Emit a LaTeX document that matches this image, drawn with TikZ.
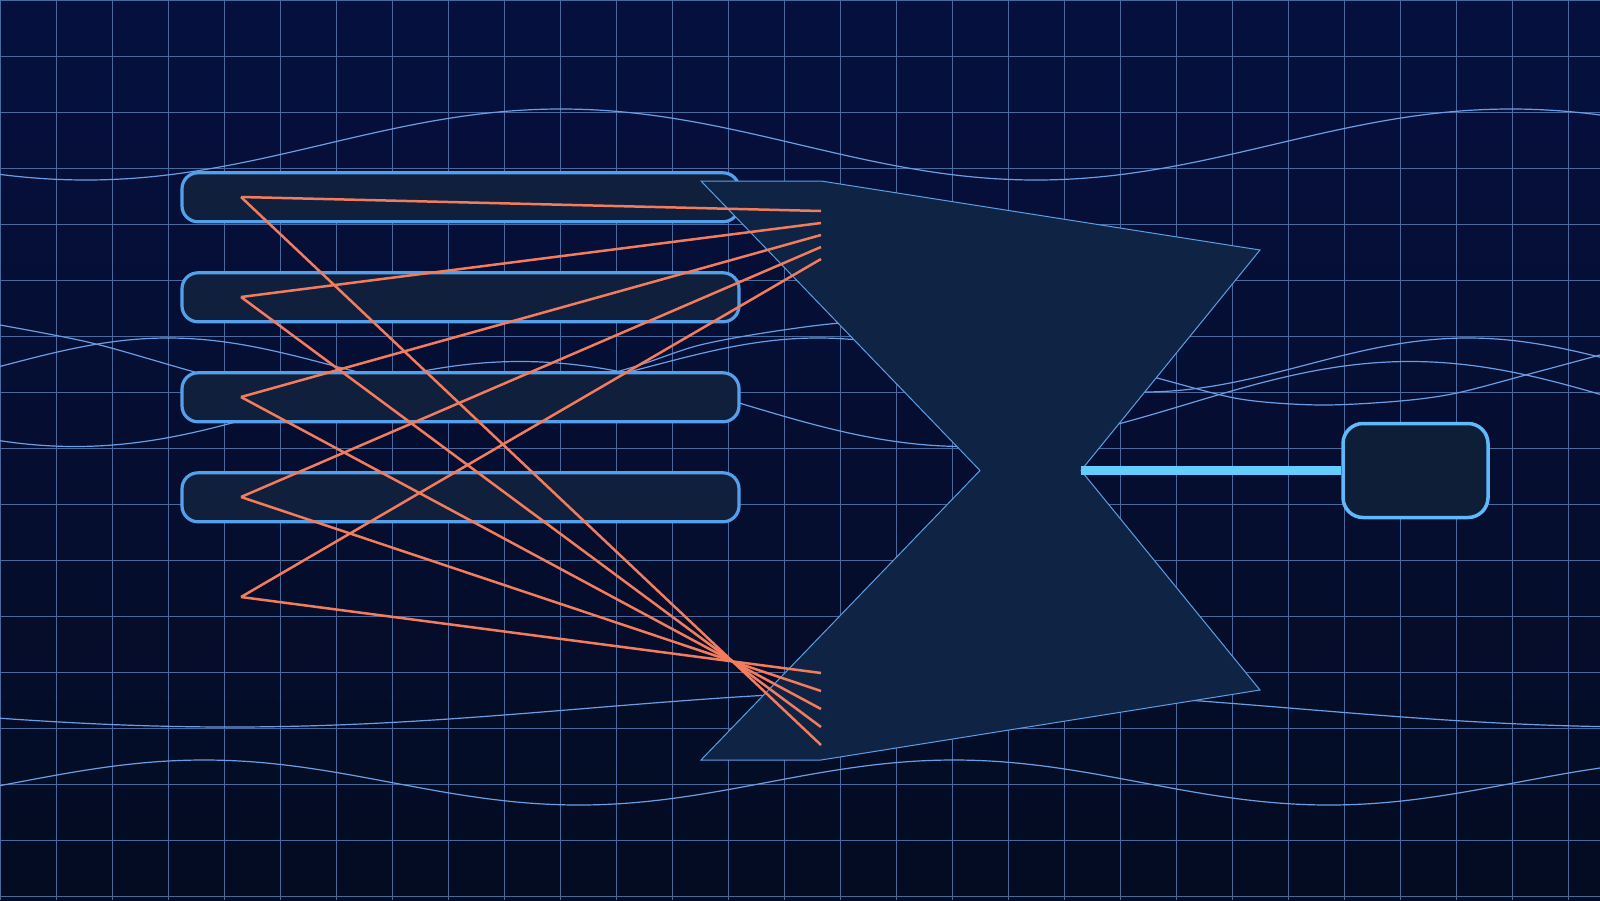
\documentclass[tikz,border=0pt]{standalone}
\definecolor{bgtop}{HTML}{06103F}
\definecolor{bgbot}{HTML}{040C22}
\definecolor{gridblue}{HTML}{4A6A9E}
\definecolor{waveblue}{HTML}{6A9EE4}
\definecolor{barfill}{HTML}{10203C}
\definecolor{barline}{HTML}{55A0EB}
\definecolor{funnelfill}{HTML}{0F2444}
\definecolor{funnelline}{HTML}{5A9FE6}
\definecolor{coral}{HTML}{F47C5E}
\definecolor{boxfill}{HTML}{0E1E37}
\definecolor{boxline}{HTML}{5FB9FA}
\definecolor{linkblue}{HTML}{64CDFF}
\tikzset{
  gridline/.style={draw=gridblue, line width=1pt},
  wave/.style={draw=waveblue, line width=1.2pt},
  slot/.style={shape=rectangle, draw=barline, fill=barfill, line width=3.2pt, rounded corners=16pt, minimum width=557pt, minimum height=49pt, inner sep=0pt},
  funnel/.style={draw=funnelline, fill=funnelfill, line width=1pt},
  ray/.style={draw=coral, line width=2.5pt},
  outbox/.style={shape=rectangle, draw=boxline, fill=boxfill, line width=3.5pt, rounded corners=20pt, minimum width=145pt, minimum height=94pt, inner sep=0pt},
  link/.style={draw=linkblue, line width=9.5pt}
}
\begin{document}
\begin{tikzpicture}[x=1pt, y=-1pt]
\useasboundingbox (0,0) rectangle (1600,900);
\shade[top color=bgtop, bottom color=bgbot] (0,0) rectangle (1600,900);
\draw[gridline, xstep=56pt, ystep=56pt] (0,0) grid (1600,900);
\draw[wave] plot[domain=0:1600, samples=161, smooth] (\x, {144.5-35.5*cos((\x-561)/950*360)});
\draw[wave] plot[domain=0:1600, samples=161, smooth] (\x, {365-27*cos((\x-168)/650*360)});
\draw[wave] plot[domain=0:1600, samples=161, smooth] (\x, {404-42.5*cos((\x-520)/890*360)});
\draw[wave] plot[smooth] coordinates {(0,325) (92,343) (191,371) (300,401) (410,413) (520,398) (630,368) (700,345) (783,330) (860,322) (950,328) (1060,352) (1157,378) (1240,399) (1320,405) (1400,401) (1457,393) (1533,373) (1600,355)};
\draw[wave] plot[domain=0:1600, samples=161, smooth] (\x, {708.5-18.5*cos((\x-940)/710*180)});
\draw[wave] plot[domain=0:1600, samples=161, smooth] (\x, {782.5-22.5*cos((\x-204)/750*360)});
\node[slot] (bar1) at (460.5,197.3) {};
\node[slot] (bar2) at (460.5,297.3) {};
\node[slot] (bar3) at (460.5,397.3) {};
\node[slot] (bar4) at (460.5,497.3) {};
\coordinate (waistL) at (980,470.5);
\coordinate (waistR) at (1081,470.5);
\draw[funnel] (701,181) -- (821,181) -- (1260,250) -- (waistR) -- (1260,690) -- (821,760) -- (701,760) -- (waistL) -- cycle;
\coordinate (in1) at (241,197);
\coordinate (in2) at (241,297);
\coordinate (in3) at (241,397);
\coordinate (in4) at (241,497);
\coordinate (in5) at (241,597);
\coordinate (up1) at (821,211);
\coordinate (up2) at (821,223);
\coordinate (up3) at (821,235);
\coordinate (up4) at (821,247);
\coordinate (up5) at (821,259);
\coordinate (dn1) at (821,673);
\coordinate (dn2) at (821,691);
\coordinate (dn3) at (821,709);
\coordinate (dn4) at (821,727);
\coordinate (dn5) at (821,745);
\path[ray] (in1) edge (up1);
\path[ray] (in2) edge (up2);
\path[ray] (in3) edge (up3);
\path[ray] (in4) edge (up4);
\path[ray] (in5) edge (up5);
\path[ray] (in1) edge (dn5);
\path[ray] (in2) edge (dn4);
\path[ray] (in3) edge (dn3);
\path[ray] (in4) edge (dn2);
\path[ray] (in5) edge (dn1);
\node[outbox] (out) at (1415.5,470.5) {};
\draw[link] (waistR) -- (out.west);
\end{tikzpicture}
\end{document}
